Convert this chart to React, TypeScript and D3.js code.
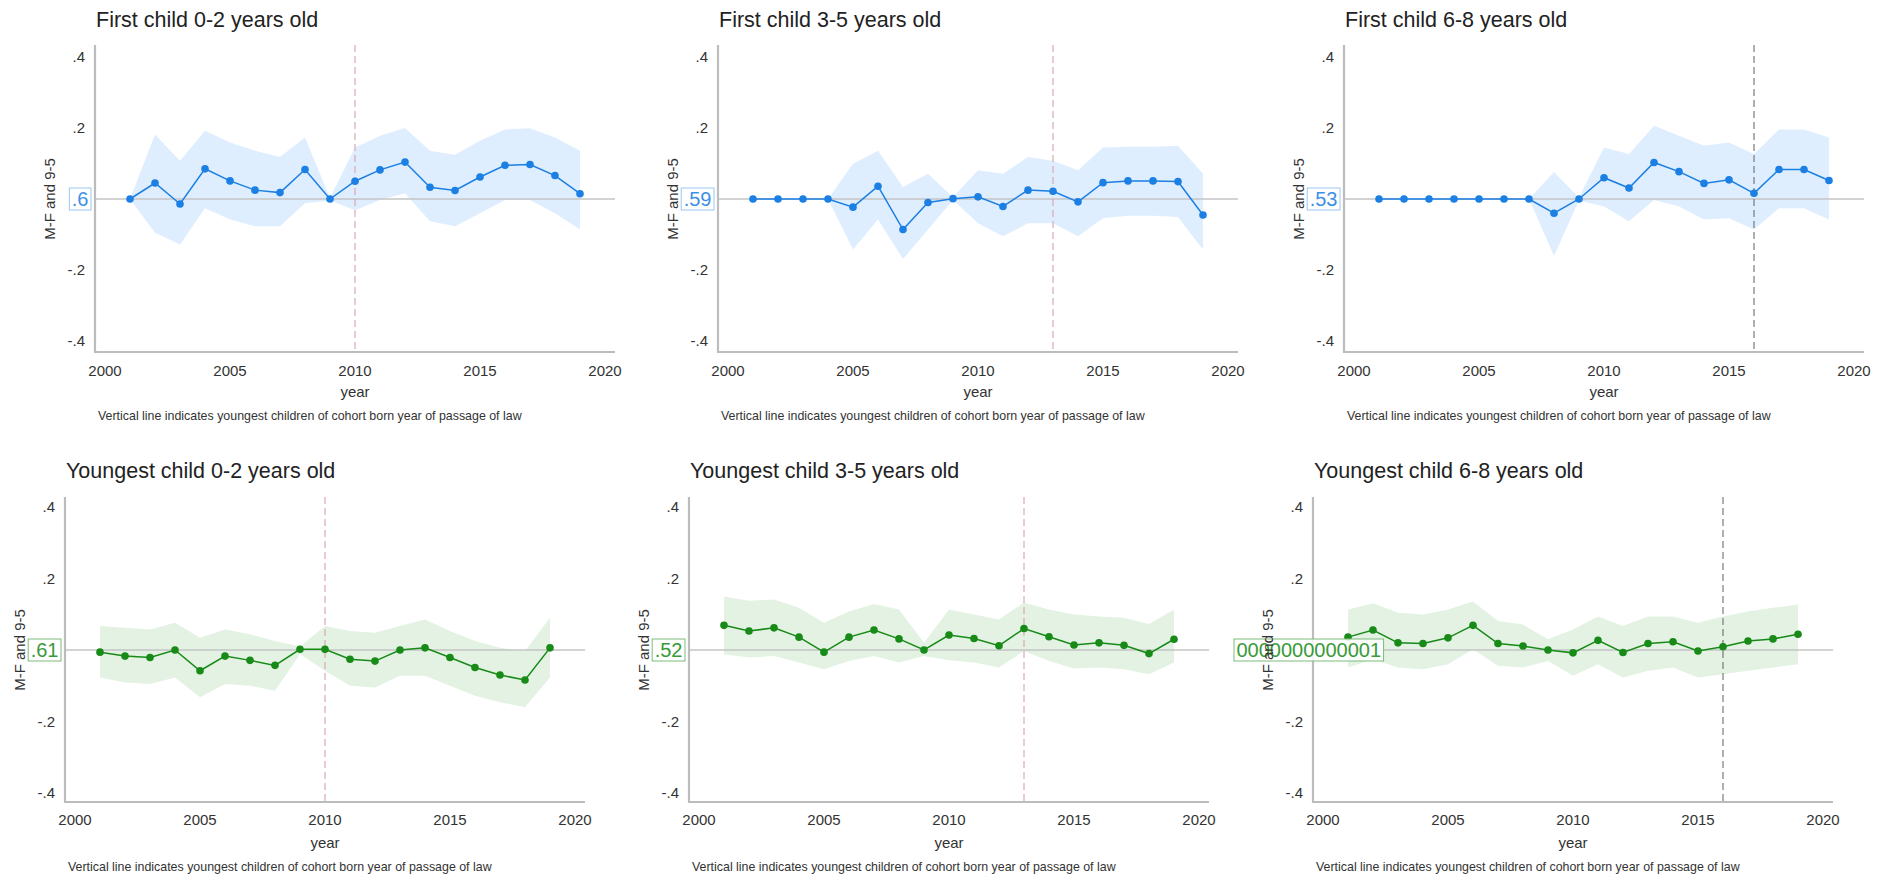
import React from 'react';
import * as d3 from 'd3';

// ---------------- data ----------------
const YEARS = [2001, 2002, 2003, 2004, 2005, 2006, 2007, 2008, 2009, 2010, 2011, 2012, 2013, 2014, 2015, 2016, 2017, 2018, 2019];
const X_TICKS = [2000, 2005, 2010, 2015, 2020];
const Y_TICKS = [0.4, 0.2, -0.2, -0.4];
const Y_TICK_LABELS = ['.4', '.2', '-.2', '-.4'];

const TITLES = [
  'First child 0-2 years old',
  'First child 3-5 years old',
  'First child 6-8 years old',
  'Youngest child 0-2 years old',
  'Youngest child 3-5 years old',
  'Youngest child 6-8 years old',
];
const LAW_YEARS = [2010, 2013, 2016, 2010, 2013, 2016];
const ZERO_LABELS = ['.6', '.59', '.53', '.61', '.52', '0000000000001'];
const Y_TITLE = 'M-F and 9-5';
const X_TITLE = 'year';
const NOTE = 'Vertical line indicates youngest children of cohort born year of passage of law';

// First child 0-2
const FC02_EST = [0, 0.045, -0.014, 0.085, 0.051, 0.025, 0.018, 0.083, 0, 0.05, 0.082, 0.104, 0.033, 0.024, 0.062, 0.095, 0.097, 0.066, 0.015];
const FC02_HI = [0, 0.182, 0.108, 0.192, 0.159, 0.136, 0.118, 0.173, 0.003, 0.145, 0.178, 0.2, 0.136, 0.125, 0.164, 0.196, 0.199, 0.173, 0.136];
const FC02_LO = [0, -0.095, -0.128, -0.026, -0.058, -0.077, -0.077, -0.012, -0.004, -0.032, -0.003, 0.016, -0.063, -0.077, -0.04, -0.003, -0.003, -0.04, -0.086];

// First child 3-5
const FC35_EST = [0, 0, 0, 0, -0.023, 0.036, -0.086, -0.01, 0.001, 0.006, -0.021, 0.025, 0.022, -0.008, 0.046, 0.051, 0.051, 0.049, -0.045];
const FC35_HI = [null, null, null, 0, 0.099, 0.136, 0.034, 0.071, 0.005, 0.081, 0.071, 0.118, 0.108, 0.081, 0.145, 0.147, 0.147, 0.15, 0.071];
const FC35_LO = [null, null, null, 0, -0.142, -0.058, -0.169, -0.086, -0.003, -0.068, -0.105, -0.068, -0.068, -0.105, -0.054, -0.047, -0.047, -0.051, -0.142];

// First child 6-8
const FC68_EST = [0, 0, 0, 0, 0, 0, 0, -0.04, 0, 0.06, 0.031, 0.103, 0.077, 0.044, 0.054, 0.016, 0.083, 0.083, 0.052];
const FC68_HI = [null, null, null, null, null, null, 0, 0.076, 0.004, 0.145, 0.127, 0.206, 0.178, 0.15, 0.159, 0.127, 0.196, 0.196, 0.173];
const FC68_LO = [null, null, null, null, null, null, 0, -0.16, -0.004, -0.021, -0.063, -0.003, -0.021, -0.058, -0.054, -0.086, -0.026, -0.026, -0.058];

// Youngest child 0-2
const YC02_EST = [-0.006, -0.017, -0.021, 0, -0.058, -0.017, -0.029, -0.043, 0.002, 0.002, -0.026, -0.031, 0, 0.006, -0.021, -0.049, -0.07, -0.084, 0.006];
const YC02_HI = [0.067, 0.062, 0.057, 0.076, 0.034, 0.057, 0.044, 0.025, 0.01, 0.067, 0.053, 0.048, 0.067, 0.085, 0.053, 0.025, 0.006, -0.003, 0.09];
const YC02_LO = [-0.077, -0.091, -0.095, -0.077, -0.132, -0.095, -0.1, -0.114, -0.012, -0.058, -0.1, -0.105, -0.072, -0.072, -0.1, -0.128, -0.146, -0.16, -0.077];

// Youngest child 3-5
const YC35_EST = [0.069, 0.053, 0.062, 0.036, -0.006, 0.036, 0.056, 0.031, 0, 0.042, 0.032, 0.012, 0.06, 0.037, 0.014, 0.02, 0.013, -0.01, 0.03];
const YC35_HI = [0.15, 0.138, 0.141, 0.118, 0.076, 0.108, 0.129, 0.113, 0.02, 0.113, 0.099, 0.085, 0.133, 0.113, 0.099, 0.094, 0.09, 0.073, 0.113];
const YC35_LO = [-0.012, -0.021, -0.017, -0.035, -0.054, -0.031, -0.017, -0.035, -0.017, -0.029, -0.035, -0.049, -0.003, -0.031, -0.052, -0.049, -0.054, -0.068, -0.035];

// Youngest child 6-8
const YC68_EST = [0.036, 0.056, 0.02, 0.018, 0.034, 0.069, 0.018, 0.011, 0, -0.008, 0.027, -0.007, 0.018, 0.023, -0.003, 0.009, 0.025, 0.031, 0.044];
const YC68_HI = [0.113, 0.131, 0.104, 0.099, 0.113, 0.136, 0.081, 0.071, 0.03, 0.057, 0.094, 0.067, 0.094, 0.094, 0.076, 0.094, 0.108, 0.118, 0.127];
const YC68_LO = [-0.049, -0.026, -0.049, -0.054, -0.04, 0.002, -0.044, -0.049, -0.031, -0.072, -0.04, -0.077, -0.058, -0.049, -0.077, -0.068, -0.058, -0.049, -0.04];

const SERIES = [
  { est: FC02_EST, hi: FC02_HI, lo: FC02_LO },
  { est: FC35_EST, hi: FC35_HI, lo: FC35_LO },
  { est: FC68_EST, hi: FC68_HI, lo: FC68_LO },
  { est: YC02_EST, hi: YC02_HI, lo: YC02_LO },
  { est: YC35_EST, hi: YC35_HI, lo: YC35_LO },
  { est: YC68_EST, hi: YC68_HI, lo: YC68_LO },
];

// ---------------- layout / style ----------------
const W = 1883;
const H = 876;
const FONT = '"Liberation Sans", Arial, Helvetica, sans-serif';

const ROWS = [
  { titleY: 27, top: 57, bottom: 341, axisTop: 45, axisBottom: 352, tickY: 376, yearY: 397, noteY: 420, axisX: [95, 718, 1344] },
  { titleY: 478, top: 507, bottom: 793, axisTop: 497, axisBottom: 802, tickY: 825, yearY: 848, noteY: 871, axisX: [65, 689, 1313] },
];

const THEMES = [
  { line: '#1b7fe3', fill: '#1a85ff', fillOpacity: 0.14, boxText: '#3d90e6', boxStroke: '#9cc6f0' },
  { line: '#178a17', fill: '#2a9a2a', fillOpacity: 0.13, boxText: '#389a38', boxStroke: '#7dbb7d' },
];
const VLINE_COLORS = ['#d6a3ab', '#d6a3ab', '#6e6e6e', '#d6a3ab', '#d6a3ab', '#6e6e6e'];
const BOX_ANCHOR = ['right', 'right', 'right', 'right', 'right', 'left'];

function textWidth(s: string, fs: number) {
  let w = 0;
  for (const c of s) w += c === '.' ? 0.278 : 0.556;
  return w * fs;
}

function Panel({ idx }: { idx: number }) {
  const row = ROWS[Math.floor(idx / 3)];
  const col = idx % 3;
  const theme = THEMES[Math.floor(idx / 3)];
  const axisX = row.axisX[col];
  const x = d3.scaleLinear().domain([2000, 2020]).range([axisX + 10, axisX + 510]);
  const y = d3.scaleLinear().domain([-0.4, 0.4]).range([row.bottom, row.top]);
  const s = SERIES[idx];

  const area = d3
    .area<number>()
    .defined((_, i) => s.hi[i] != null && s.lo[i] != null)
    .x((_, i) => x(YEARS[i]))
    .y0((_, i) => y(s.lo[i] as number))
    .y1((_, i) => y(s.hi[i] as number));
  const line = d3
    .line<number>()
    .x((_, i) => x(YEARS[i]))
    .y((d) => y(d));

  const axisRight = x(2020) + 10;
  const y0 = y(0);
  const boxFs = 20;
  const label = ZERO_LABELS[idx];
  const bw = textWidth(label, boxFs) + 5;
  const bx = BOX_ANCHOR[idx] === 'right' ? axisX - 4 - bw : axisX - 79;

  return (
    <g>
      <text x={axisX + 1} y={row.titleY} fontSize={21.5} fill="#222" fontFamily={FONT}>
        {TITLES[idx]}
      </text>
      {/* CI band */}
      <path d={area(YEARS) || ''} fill={theme.fill} fillOpacity={theme.fillOpacity} stroke="none" />
      {/* zero line */}
      <line x1={axisX} x2={axisRight} y1={y0} y2={y0} stroke="#c4c4c4" strokeWidth={1.6} />
      {/* law year line */}
      <line
        x1={x(LAW_YEARS[idx])}
        x2={x(LAW_YEARS[idx])}
        y1={row.axisTop}
        y2={row.axisBottom}
        stroke={VLINE_COLORS[idx]}
        strokeWidth={1.1}
        strokeDasharray="7,4"
      />
      {/* axes */}
      <line x1={axisX} x2={axisX} y1={row.axisTop} y2={row.axisBottom} stroke="#bcbcbc" strokeWidth={2.2} />
      <line x1={axisX - 1} x2={axisRight} y1={row.axisBottom} y2={row.axisBottom} stroke="#bcbcbc" strokeWidth={2.2} />
      {/* series */}
      <path d={line(s.est) || ''} fill="none" stroke={theme.line} strokeWidth={1.5} />
      {s.est.map((v, i) => (
        <circle key={i} cx={x(YEARS[i])} cy={y(v)} r={3.8} fill={theme.line} />
      ))}
      {/* y tick labels */}
      {Y_TICKS.map((t, i) => (
        <text key={t} x={axisX - 10} y={y(t) + 5} textAnchor="end" fontSize={15} fill="#333" fontFamily={FONT}>
          {Y_TICK_LABELS[i]}
        </text>
      ))}
      {/* x tick labels */}
      {X_TICKS.map((t) => (
        <text key={t} x={x(t)} y={row.tickY} textAnchor="middle" fontSize={15} fill="#333" fontFamily={FONT}>
          {t}
        </text>
      ))}
      <text x={x(2010)} y={row.yearY} textAnchor="middle" fontSize={15} fill="#333" fontFamily={FONT}>
        {X_TITLE}
      </text>
      <text x={axisX + 3} y={row.noteY} fontSize={12.4} fill="#333" fontFamily={FONT}>
        {NOTE}
      </text>
      {/* zero label box */}
      <rect x={bx} y={y0 - 11} width={bw} height={22} fill="#ffffff" fillOpacity={0.85} stroke={theme.boxStroke} strokeWidth={1} />
      <text x={bx + 2.5} y={y0 + 7} fontSize={boxFs} fill={theme.boxText} fontFamily={FONT}>
        {label}
      </text>
      {/* y axis title (drawn above the label box, as in the original) */}
      <text
        transform={`translate(${axisX - 40},${y0}) rotate(-90)`}
        textAnchor="middle"
        fontSize={15}
        fill="#333"
        fontFamily={FONT}
      >
        {Y_TITLE}
      </text>
    </g>
  );
}

export default function App() {
  return (
    <svg
      width={W}
      height={H}
      viewBox={`0 0 ${W} ${H}`}
      style={{ position: 'absolute', left: 0, top: 0, background: '#fff' }}
    >
      <rect x={0} y={0} width={W} height={H} fill="#fff" />
      {[0, 1, 2, 3, 4, 5].map((i) => (
        <Panel key={i} idx={i} />
      ))}
    </svg>
  );
}
